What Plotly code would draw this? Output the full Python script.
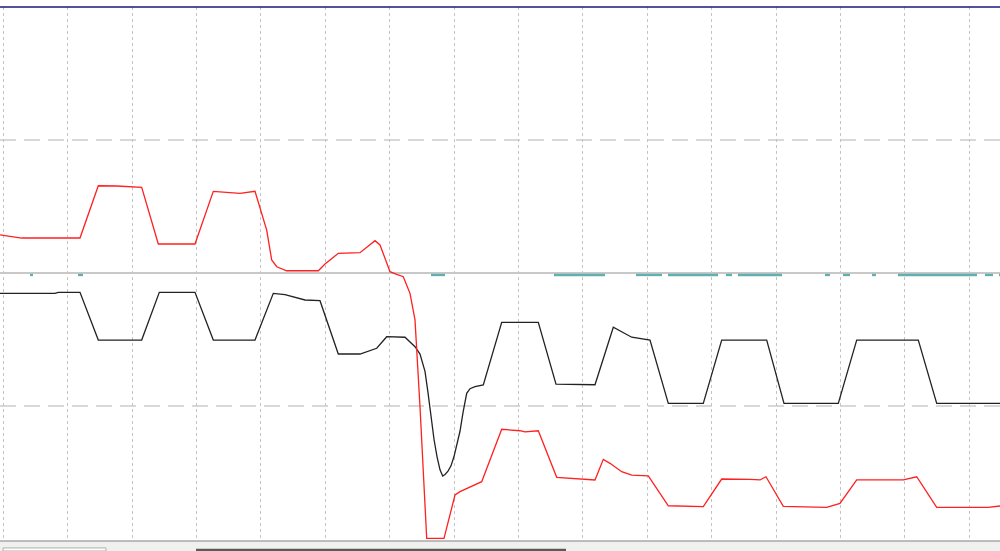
import plotly.graph_objects as go

# ---- data (time in samples, value in signal units) ----
red_t = [0, 11.7, 21.7, 80, 98.3, 116.7, 141.7, 158.3, 195, 213.3, 231.7, 240, 255,
         266.7, 271.7, 276.7, 286.7, 318.3, 325, 338.3, 360, 375, 380, 390, 396.7,
         403.3, 410, 415, 420, 426.7, 444, 455, 460, 471.7, 481.7, 501.7, 520, 525,
         538.3, 556.7, 576.7, 595, 603.3, 610, 621.7, 631.7, 648.3, 660, 668.3, 703.3,
         721.7, 750, 760, 766, 783.3, 826.7, 840, 856.7, 903.3, 916.7, 936.7, 988.3, 1000]
red_v = [0.286, 0.273, 0.263, 0.263, 0.656, 0.654, 0.644, 0.218, 0.218, 0.614, 0.607,
         0.599, 0.614, 0.323, 0.098, 0.047, 0.017, 0.017, 0.068, 0.148, 0.153, 0.243,
         0.211, 0.010, -0.010, -0.028, -0.153, -0.353, -1.005, -1.995, -1.995, -1.669,
         -1.644, -1.602, -1.569, -1.175, -1.186, -1.195, -1.186, -1.536, -1.547, -1.556,
         -1.401, -1.431, -1.494, -1.519, -1.526, -1.656, -1.750, -1.757, -1.549, -1.551,
         -1.556, -1.532, -1.754, -1.762, -1.732, -1.556, -1.556, -1.532, -1.762, -1.762,
         -1.752]

black_t = [0, 55, 58.3, 80, 98.3, 141.7, 159.3, 195, 213.3, 255, 273.3, 285, 305, 320,
           338.3, 360, 376.7, 386.7, 405, 415, 420, 425, 428, 431, 434, 437, 440, 442.7,
           445, 448, 451, 454, 457, 460, 463, 466.7, 470, 475, 483.3, 501.7, 538.3, 556,
           595, 613.3, 631.7, 650, 668.3, 703.3, 721.7, 766.7, 784, 838.3, 856.7, 918.3,
           936.7, 1000]
black_v = [-0.153, -0.153, -0.145, -0.145, -0.504, -0.504, -0.145, -0.145, -0.504,
           -0.504, -0.153, -0.163, -0.203, -0.208, -0.609, -0.609, -0.566, -0.479,
           -0.483, -0.554, -0.61, -0.74, -0.90, -1.08, -1.25, -1.38, -1.48, -1.526,
           -1.515, -1.49, -1.45, -1.38, -1.29, -1.19, -1.05, -0.905, -0.87, -0.855,
           -0.842, -0.371, -0.371, -0.835, -0.840, -0.408, -0.483, -0.504, -0.980,
           -0.980, -0.504, -0.504, -0.980, -0.980, -0.504, -0.504, -0.980, -0.980]

teal_start = [30, 78, 431, 554, 636, 668, 726, 738, 825, 843, 872, 898, 985, 999]
teal_end = [33, 83, 445, 605, 662, 718, 732, 782, 830, 850, 876, 977, 993, 1000]
teal_level = -0.015

# build gapped teal trace
teal_t, teal_v = [], []
for s, e in zip(teal_start, teal_end):
    teal_t += [s, e, None]
    teal_v += [teal_level, teal_level, None]

fig = go.Figure()
fig.add_trace(go.Scatter(x=teal_t, y=teal_v, mode="lines",
                         line=dict(color="#5fb0b0", width=2.3), hoverinfo="skip"))
fig.add_trace(go.Scatter(x=black_t, y=black_v, mode="lines",
                         line=dict(color="#222222", width=1.3)))
fig.add_trace(go.Scatter(x=red_t, y=red_v, mode="lines",
                         line=dict(color="#ff2020", width=1.3)))

shapes = []
# horizontal dashed reference lines at +/-1
for lv in (1, -1):
    shapes.append(dict(type="line", xref="paper", yref="y", x0=0, x1=1, y0=lv, y1=lv,
                       line=dict(color="#cccccc", width=1.5, dash="16px,8px"), layer="below"))
# top border line
shapes.append(dict(type="line", xref="paper", yref="paper", x0=0, x1=1, y0=1, y1=1,
                   line=dict(color="#1a1a7a", width=1.5)))
# bottom scroll strip
shapes.append(dict(type="rect", xref="paper", yref="paper", x0=0, x1=1, y0=-0.0187, y1=0,
                   line=dict(width=0), fillcolor="#f0f0f0"))
shapes.append(dict(type="line", xref="paper", yref="paper", x0=0, x1=1, y0=0, y1=0,
                   line=dict(color="#a8a8a8", width=1.5)))
shapes.append(dict(type="rect", xref="paper", yref="paper", x0=0.003, x1=0.106,
                   y0=-0.0187, y1=-0.013, line=dict(color="#b0b0b0", width=1),
                   fillcolor="#ffffff"))
shapes.append(dict(type="rect", xref="paper", yref="paper", x0=0.196, x1=0.566,
                   y0=-0.0187, y1=-0.0145, line=dict(width=0), fillcolor="#5a5a5a"))

fig.update_layout(
    width=1000, height=551,
    margin=dict(l=0, r=0, t=7, b=10),
    paper_bgcolor="white", plot_bgcolor="white",
    showlegend=False,
    hovermode=False,
    shapes=shapes,
    xaxis=dict(range=[0, 1000], showticklabels=False, ticks="", zeroline=False,
               showgrid=True, tick0=3.3, dtick=64.4, gridcolor="#c4c4c4",
               griddash="3px,3px", gridwidth=1, showline=False),
    yaxis=dict(range=[-2.015, 2.0], showticklabels=False, ticks="", showgrid=False,
               zeroline=True, zerolinecolor="#c8c8c8", zerolinewidth=2, showline=False),
)

fig.write_html("out.html", config={"displayModeBar": False},
               post_script="document.body.style.margin='0';document.body.style.overflow='hidden';")
